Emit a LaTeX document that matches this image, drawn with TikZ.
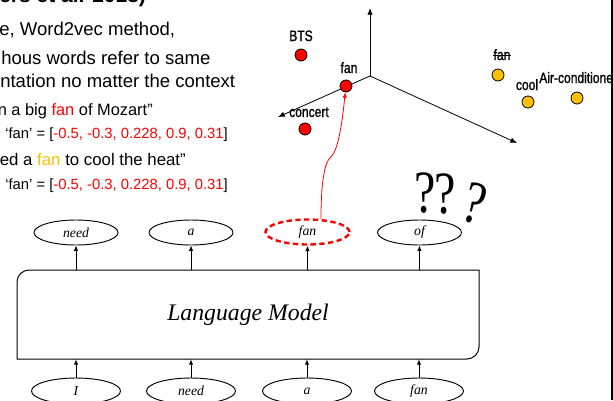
\documentclass[tikz,border=0pt]{standalone}
\usepackage{fontspec}
\usepackage{graphicx}
\usetikzlibrary{arrows.meta,shapes.geometric,calc}
\newfontfamily\arialfont{Liberation Sans}
\newfontfamily\lblfont[FakeStretch=0.8,FakeBold=1.2]{Liberation Sans}
\newfontfamily\timesfont{Liberation Serif}
\definecolor{fanred}{HTML}{FF0000}
\definecolor{fangold}{HTML}{FFC000}
\newcommand{\narrowq}{\scalebox{0.8}[1]{?}}
\begin{document}
\begin{tikzpicture}[x=0.75pt,y=-0.75pt,
  headtxt/.style={anchor=base west,inner sep=0pt,font=\arialfont\bfseries\fontsize{15.75}{18}\selectfont},
  bodytxt/.style={anchor=base west,inner sep=0pt,font=\arialfont\fontsize{13.9}{16}\selectfont},
  quotetxt/.style={anchor=base east,inner sep=0pt,font=\arialfont\fontsize{12.3}{14}\selectfont},
  vectxt/.style={anchor=base west,inner sep=0pt,font=\arialfont\fontsize{11.1}{13}\selectfont},
  arr/.style={-{Latex[length=4pt,width=3.2pt]},line width=0.6pt},
  axisline/.style={-{Latex[length=5pt,width=4pt]},line width=0.6pt},
  tok/.style={ellipse,draw,line width=0.7pt,minimum width=63pt,minimum height=18.75pt,inner sep=0pt,
              font=\timesfont\itshape\fontsize{10.3}{12}\selectfont},
  intok/.style={tok,minimum width=66.75pt,minimum height=19.5pt},
  wordpt/.style={circle,draw,line width=0.6pt,minimum size=9pt,inner sep=0pt},
  ptlbl/.style={anchor=base,inner sep=0pt,font=\lblfont\fontsize{11.3}{13}\selectfont},
  qmark/.style={anchor=base,inner sep=0pt,font=\timesfont\fontsize{45}{47}\selectfont}]
\useasboundingbox (0,0) rectangle (613,400);
\clip (0,0) rectangle (613,400);

% --- text column on the left ---
\node[headtxt] (t0) at (-1,2) {ers et al. 2018)};
\node[bodytxt] (t1) at (-1,35) {e, Word2vec method,};
\node[bodytxt] (t2) at (1,64) {hous words refer to same};
\node[bodytxt] (t3) at (0,87) {ntation no matter the context};
\node[quotetxt] (t4) at (153,115) {n a big \textcolor{fanred}{fan} of Mozart”};
\node[vectxt] (t5) at (5,138) {‘fan’ = [\textcolor{fanred}{-0.5, -0.3, 0.228, 0.9, 0.31}]};
\node[quotetxt,font=\arialfont\fontsize{12.6}{14}\selectfont] (t6) at (186,165) {ed a \textcolor{fangold}{fan} to cool the heat”};
\node[vectxt] (t7) at (5,189) {‘fan’ = [\textcolor{fanred}{-0.5, -0.3, 0.228, 0.9, 0.31}]};

% --- embedding space axes ---
\coordinate (o) at (370,76);
\coordinate (axup) at (370,8);
\coordinate (axleft) at (278,117);
\coordinate (axright) at (517,143);
\draw[axisline] (o) -- (axup);
\draw[axisline] (o) -- (axleft);
\draw[axisline] (o) -- (axright);

% --- word points ---
\node[wordpt,fill=fanred] (bts) at (301,55) {};
\node[ptlbl] (btsl) at (301,41) {BTS};
\node[wordpt,fill=fanred] (fanpt) at (346,86) {};
\node[ptlbl] (fanl) at (349,73) {fan};
\node[wordpt,fill=fanred] (concert) at (305,129) {};
\node[ptlbl] (concertl) at (309,117) {concert};

\node[wordpt,fill=fangold] (fanpt2) at (498,75) {};
\node[ptlbl] (fanl2) at (502,60) {fan};
\draw[line width=0.6pt] ($(fanl2.base west)+(0,-5)$) -- ($(fanl2.base east)+(0,-5)$);
\node[wordpt,fill=fangold] (cool) at (528,102) {};
\node[ptlbl] (cooll) at (527,90) {cool};
\node[wordpt,fill=fangold] (aircon) at (577,98) {};
\node[ptlbl,anchor=base west] (aircl) at (539,83) {Air-conditione};

% --- language model ---
\node[minimum width=346.5pt,minimum height=66.75pt,inner sep=0pt,
      font=\timesfont\itshape\fontsize{17.8}{20}\selectfont] (lm) at (248,314.5) {Language Model};
\draw[line width=0.75pt] (17,359) -- (17,282) .. controls (17,275.4) and (22.6,270) .. (29,270)
  -- (479,270) -- (479,347) .. controls (479,353.6) and (473.4,359) .. (467,359) -- cycle;

% outputs
\node[tok] (out1) at (76,232.5) {need};
\node[tok] (out2) at (191,232.5) {a};
\node[tok,draw=fanred,line width=1.8pt,dash pattern=on 4pt off 2.6pt] (out3) at (307.5,232) {fan};
\node[tok] (out4) at (419.5,232.5) {of};

% inputs
\node[intok] (in1) at (76,391) {I};
\node[intok] (in2) at (191,391) {need};
\node[intok] (in3) at (307,391) {a};
\node[intok] (in4) at (419,391) {fan};

\foreach \i in {1,...,4} {
  \draw[arr] (lm.north -| out\i) -- (out\i.south);
  \draw[arr] (in\i.north) -- (in\i |- lm.south);
}

% link from the predicted word to its single vector
\draw[fanred,line width=0.6pt,-{Latex[length=4pt,width=3.2pt]}]
  (out3.44) .. controls (321,185) and (324,162) .. (331,157)
  .. controls (338,150) and (342,125) .. (fanpt.-97);

% question marks
\node[qmark] (q1) at (425,212) {\narrowq};
\node[qmark] (q2) at (445,213) {\narrowq};
\node[qmark,rotate=-15] (q3) at (470,222) {\narrowq};

% slide edge
\draw[line width=1.5pt] (612,0) -- (612,400);
\end{tikzpicture}
\end{document}
